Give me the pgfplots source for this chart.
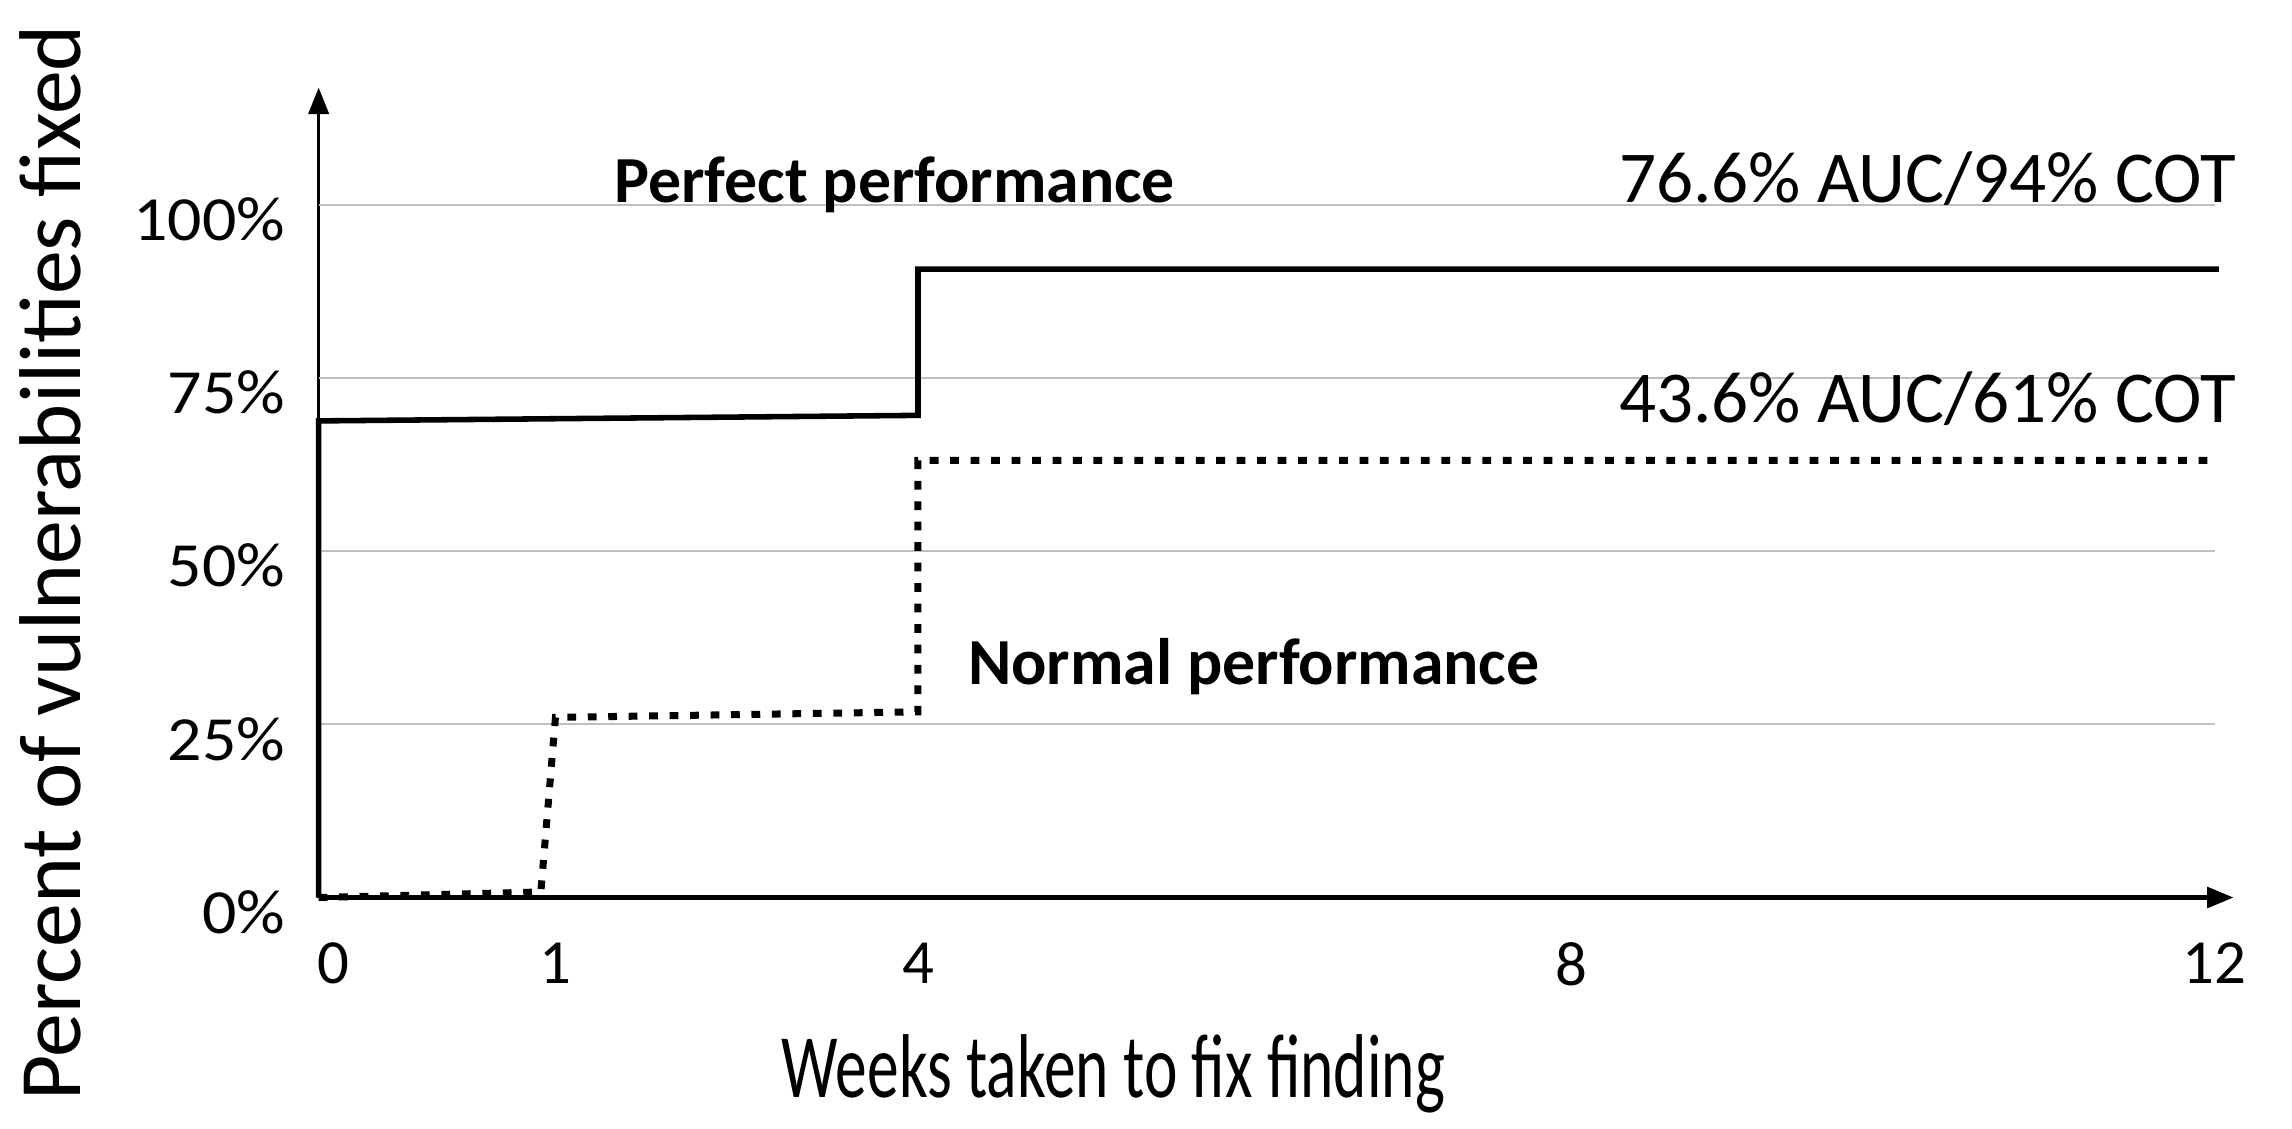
\documentclass[border=0pt]{standalone}
\usepackage{fontspec}
\setmainfont{Carlito}
\usepackage{pgfplots}
\pgfplotsset{compat=1.18}
\usetikzlibrary{arrows.meta}

\begin{document}
\begin{tikzpicture}
\begin{axis}[
  at={(0,0)}, anchor=origin,
  scale only axis, width=655pt, height=277pt,
  xmin=0, xmax=1310, ymin=0, ymax=116.9,
  axis lines=left,
  axis line style={line width=0.9pt, -{Triangle[length=9pt,width=7pt]}},
  x axis line style={line width=1.4pt},
  xtick={10,162,410,857,1297},
  xticklabels={0,1,4,8,12},
  ytick={0,25,50,75,100},
  yticklabel={\scalebox{1.08}[1]{\pgfmathprintnumber{\tick}\%}},
  major tick length=0pt,
  /pgf/number format/assume math mode=true,
  tick label style={font=\fontsize{21.5}{24}\selectfont},
  yticklabel style={yshift=-5pt, xshift=-8pt},
  xticklabel style={yshift=-12pt},
  xlabel={\scalebox{0.7}[1]{Weeks taken to fix finding}},
  ylabel={Percent of vulnerabilities fixed},
  xlabel style={font=\fontsize{31}{34}\selectfont, at={(axis description cs:0.415,-0.218)}, anchor=center},
  ylabel style={font=\fontsize{30}{34}\selectfont, at={(axis description cs:-0.14,0.413)}, anchor=center},
  clip=false,
]
\foreach \g in {25,50,75,100} {
  \edef\temp{\noexpand\draw[black!25, line width=0.75pt] (axis cs:0,\g) -- (axis cs:1297,\g);}
  \temp
}
\addplot[black, line width=1.9pt] coordinates {(0,0) (0,68.8) (410,69.6) (410,90.7) (1300,90.7)};
\addplot[black, line width=2.4pt, dash pattern=on 3pt off 4pt] coordinates {(0,0) (152,0.8) (162,26.0) (410,26.8) (410,63.1) (1297,63.1)};
\node[anchor=base west, inner sep=0pt, font=\bfseries\fontsize{22.5}{26}\selectfont] at (axis cs:202,100.4) {Perfect performance};
\node[anchor=base east, inner sep=0pt, font=\fontsize{25}{28}\selectfont] at (axis cs:1312,100.4) {76.6\% AUC/94\% COT};
\node[anchor=base east, inner sep=0pt, font=\fontsize{25}{28}\selectfont] at (axis cs:1312,68.6) {43.6\% AUC/61\% COT};
\node[anchor=base west, inner sep=0pt, font=\bfseries\fontsize{22.5}{26}\selectfont] at (axis cs:444,30.8) {Normal performance};
\end{axis}
\pgfresetboundingbox
\path[use as bounding box] (-109pt,-79pt) rectangle (675pt,307pt);
\end{tikzpicture}
\end{document}
